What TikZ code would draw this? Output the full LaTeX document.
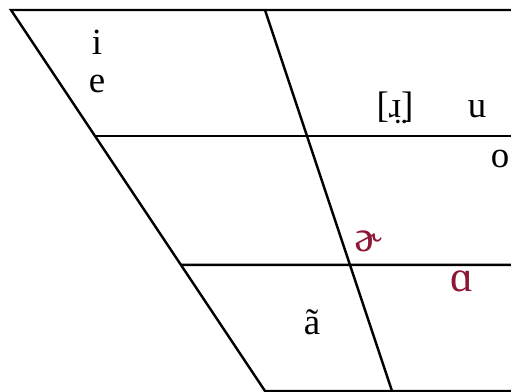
\documentclass[tikz,border=0pt]{standalone}
\usepackage{fontspec}
\setmainfont{Liberation Serif}
\usepackage{xcolor}
\usetikzlibrary{calc}
\definecolor{rhotic}{RGB}{140,22,52}

\begin{document}
\begin{tikzpicture}[ x=0.02cm, y=0.02cm, chart/.style={line width=1.4pt},
      vowel/.style={anchor=base, inner sep=0pt, font=\fontsize{21}{24}\selectfont},
      rvowel/.style={vowel, text=rhotic, font=\fontsize{25}{28}\selectfont} ]

      \useasboundingbox (0,0) rectangle (511,392);

      % Corners of the chart
      \coordinate (tl) at (11,382); \coordinate (tm) at (265,382);
      \coordinate (tr) at (511,382); \coordinate (bl) at (265,1);
      \coordinate (bm) at (392,1); \coordinate (br) at (511,1);

      % Outline and inner line
      \draw[chart] (tr) -- (tl) -- (bl) -- (br);
      \draw[chart] (tm) -- (bm);

      % Height lines
      \draw[chart] ($(tl)!0.331!(bl)$) -- (511,{382-0.331*381});
      \draw[chart] ($(tl)!0.669!(bl)$) -- (511,{382-0.669*381});

      % Vowels
      \node[vowel] (i) at (97,337) {i};
      \node[vowel] (e) at (97,299) {e};
      \node[vowel] (rr) at (395,274) {[ɹ̤]};
      \node[vowel] (u) at (477,274) {u};
      \node[vowel] (o) at (500,224) {o};
      \node[rvowel] (schwar) at (368,140) {ɚ};
      \node[rvowel] (alpha) at (462,100) {ɑ};
      \node[vowel] (anasal) at (312,57) {ã};
    \end{tikzpicture}
\end{document}
